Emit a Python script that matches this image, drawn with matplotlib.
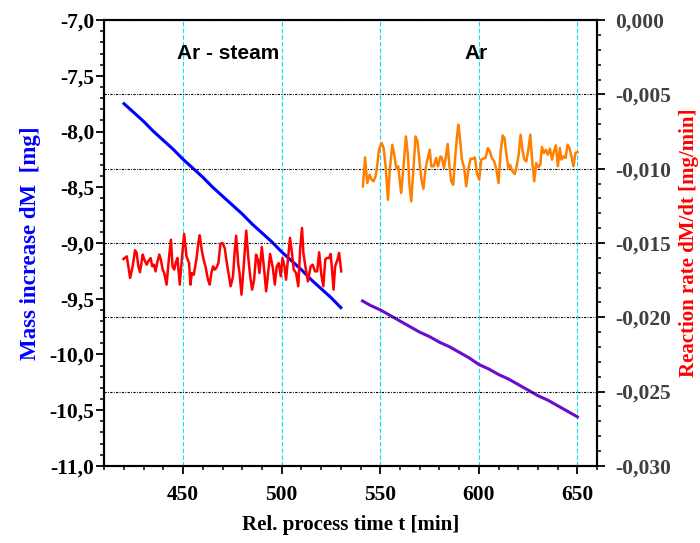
import numpy as np
import matplotlib.pyplot as plt
from matplotlib.ticker import MultipleLocator, FuncFormatter

# mass curve, Ar - steam section
t_ms = [420, 425, 430, 435, 440, 445, 450, 455, 460, 465, 470, 475, 480, 485,
        490, 495, 500, 505, 510, 515, 520, 525, 530]
m_ms = [-7.75, -7.83, -7.91, -8.00, -8.08, -8.16, -8.25, -8.33, -8.41, -8.50,
        -8.58, -8.66, -8.74, -8.83, -8.91, -8.99, -9.08, -9.16, -9.24, -9.33,
        -9.41, -9.49, -9.58]

# mass curve, Ar section
t_ma = [541, 545, 550, 555, 560, 565, 570, 575, 580, 585, 590, 595, 600, 605,
        610, 615, 620, 625, 630, 635, 640, 645, 650]
m_ma = [-9.52, -9.56, -9.60, -9.65, -9.70, -9.75, -9.80, -9.84, -9.89, -9.93,
        -9.98, -10.03, -10.09, -10.13, -10.18, -10.22, -10.27, -10.32, -10.37,
        -10.41, -10.46, -10.51, -10.56]

# reaction rate, Ar - steam
t_rs = [419.7, 421.4, 423.1, 424.4, 425.6, 426.4, 427.3, 428.1, 429.5, 430.3,
        431.5, 432.3, 433.5, 434.3, 435.2, 436.0, 436.9, 437.9, 438.7, 439.6,
        440.4, 441.6, 442.8, 443.8, 444.6, 445.5, 446.3, 447.1, 448.3, 449.3,
        450.5, 451.7, 453.0, 453.7, 454.4, 455.4, 456.7, 457.7, 458.4, 459.4,
        460.4, 461.5, 462.6, 463.5, 464.3, 465.2, 466.0, 466.8, 467.9, 468.9,
        469.9, 471.1, 471.9, 472.7, 474.1, 475.3, 476.1, 476.9, 477.9, 478.6,
        479.6, 480.6, 482.0, 483.0, 484.0, 485.0, 486.0, 487.0, 487.9, 488.7,
        489.9, 491.1, 492.1, 493.1, 494.1, 495.5, 496.5, 497.5, 498.5, 499.5,
        500.4, 501.4, 502.2, 503.0, 504.2, 505.2, 506.1, 507.3, 508.4, 509.4,
        510.3, 511.0, 512.0, 513.3, 514.7, 515.7, 516.9, 518.0, 519.0, 520.1,
        521.1, 522.1, 522.9, 524.1, 524.8, 525.4, 526.3, 527.1, 528.3, 529.1,
        530.2]
r_rs = [-0.01608, -0.01590, -0.01735, -0.01657, -0.01549, -0.01567, -0.01657,
        -0.01697, -0.01578, -0.01612, -0.01646, -0.01623, -0.01601, -0.01657,
        -0.01646, -0.01691, -0.01630, -0.01578, -0.01612, -0.01679, -0.01702,
        -0.01780, -0.01601, -0.01478, -0.01657, -0.01679, -0.01630, -0.01601,
        -0.01780, -0.01612, -0.01439, -0.01590, -0.01635, -0.01780, -0.01702,
        -0.01713, -0.01612, -0.01500, -0.01448, -0.01545, -0.01612, -0.01668,
        -0.01747, -0.01780, -0.01702, -0.01657, -0.01679, -0.01668, -0.01635,
        -0.01504, -0.01500, -0.01534, -0.01612, -0.01679, -0.01791, -0.01724,
        -0.01567, -0.01451, -0.01635, -0.01702, -0.01848, -0.01679, -0.01417,
        -0.01590, -0.01724, -0.01814, -0.01747, -0.01578, -0.01612, -0.01702,
        -0.01527, -0.01679, -0.01825, -0.01702, -0.01574, -0.01668, -0.01780,
        -0.01657, -0.01635, -0.01724, -0.01601, -0.01657, -0.01747, -0.01635,
        -0.01466, -0.01567, -0.01679, -0.01702, -0.01791, -0.01534, -0.01399,
        -0.01567, -0.01657, -0.01758, -0.01657, -0.01646, -0.01691, -0.01691,
        -0.01563, -0.01713, -0.01791, -0.01612, -0.01601, -0.01601, -0.01574,
        -0.01657, -0.01814, -0.01657, -0.01612, -0.01567, -0.01691]

# reaction rate, Ar
t_ra = [541.2, 542.3, 543.4, 544.6, 545.6, 546.6, 547.6, 548.5, 549.3, 550.7,
        551.7, 552.7, 553.9, 554.9, 556.1, 557.1, 558.1, 559.1, 560.6, 561.6,
        563.0, 564.0, 564.8, 565.7, 566.7, 567.9, 568.9, 569.9, 570.9, 571.9,
        572.9, 573.9, 575.1, 575.9, 577.1, 578.3, 579.3, 580.5, 581.3, 582.3,
        583.3, 584.2, 585.0, 586.0, 587.0, 588.1, 589.1, 589.6, 590.6, 591.4,
        592.6, 593.6, 594.8, 595.8, 597.0, 598.0, 599.0, 600.2, 601.2, 602.2,
        603.4, 604.6, 605.6, 606.6, 607.8, 608.9, 610.0, 611.1, 612.1, 613.0,
        614.0, 615.0, 615.8, 617.0, 618.2, 619.2, 620.2, 621.2, 622.1, 623.1,
        624.1, 625.1, 626.1, 627.1, 628.1, 629.1, 630.2, 631.2, 632.0, 633.0,
        634.0, 635.0, 636.1, 637.1, 638.1, 639.1, 640.1, 641.1, 641.9, 643.0,
        644.0, 645.0, 646.0, 647.0, 648.0, 649.0, 650.0]
r_ra = [-0.01119, -0.00924, -0.01096, -0.01040, -0.01074, -0.01085, -0.01052,
        -0.00973, -0.00872, -0.00827, -0.00861, -0.00984, -0.01209, -0.00996,
        -0.00839, -0.00906, -0.00996, -0.00984, -0.01164, -0.01018, -0.00783,
        -0.00906, -0.01108, -0.01220, -0.01029, -0.00783, -0.00816, -0.00951,
        -0.01074, -0.01135, -0.01007, -0.00939, -0.00872, -0.00984, -0.00984,
        -0.00928, -0.00984, -0.00917, -0.00928, -0.00996, -0.00917, -0.00834,
        -0.00973, -0.01085, -0.01108, -0.00906, -0.00760, -0.00704, -0.00816,
        -0.00939, -0.00996, -0.01119, -0.00996, -0.00933, -0.00933, -0.00924,
        -0.01029, -0.01074, -0.00939, -0.00933, -0.00928, -0.00861, -0.00883,
        -0.00928, -0.00951, -0.01007, -0.01096, -0.00883, -0.00776, -0.00794,
        -0.00906, -0.00996, -0.00973, -0.01018, -0.01036, -0.00984, -0.00906,
        -0.00771, -0.00872, -0.00939, -0.00951, -0.00872, -0.00771, -0.00951,
        -0.01085, -0.00962, -0.00991, -0.00973, -0.00854, -0.00895, -0.00872,
        -0.00906, -0.00865, -0.00939, -0.00883, -0.00843, -0.00984, -0.00861,
        -0.00939, -0.00917, -0.00928, -0.00839, -0.00861, -0.00917, -0.00984,
        -0.00895, -0.00889]

serif = 'Liberation Serif'
comma = lambda fmt: FuncFormatter(lambda v, p: (fmt % v).replace('.', ','))

fig = plt.figure(figsize=(7, 5.43), dpi=100)
ax = fig.add_axes([0.149, 0.142, 0.704, 0.821])
ax2 = ax.twinx()

ax.plot(t_ms, m_ms, color='#0000ff', lw=2.2, solid_joinstyle='round')
ax.plot(t_ma, m_ma, color='#6a0dcc', lw=2.2, solid_joinstyle='round')
ax2.plot(t_rs, r_rs, color='#ff0000', lw=1.8, solid_joinstyle='round')
ax2.plot(t_ra, r_ra, color='#ff8000', lw=1.8, solid_joinstyle='round')

ax.set_xlim(410, 660)
ax.set_ylim(-11, -7)
ax2.set_ylim(-0.030, 0.0)

ax.xaxis.set_major_locator(MultipleLocator(50))
ax.xaxis.set_minor_locator(MultipleLocator(10))
ax.yaxis.set_major_locator(MultipleLocator(0.5))
ax.yaxis.set_minor_locator(MultipleLocator(0.1))
ax.yaxis.set_major_formatter(comma('%.1f'))
ax2.yaxis.set_major_locator(MultipleLocator(0.005))
ax2.yaxis.set_minor_locator(MultipleLocator(0.001))
ax2.yaxis.set_major_formatter(comma('%.3f'))

ax.grid(axis='x', color='#00e5ee', ls=(0, (4, 2)), lw=0.8)
ax2.grid(axis='y', color='black', ls=(0, (2, 1.2, 0.8, 1.2)), lw=0.8)

for a in (ax, ax2):
    for sp in a.spines.values():
        sp.set_linewidth(1.5)
ax.tick_params(axis='both', which='major', direction='out', length=6, width=1.3)
ax.tick_params(axis='both', which='minor', direction='out', length=3, width=1.1)
ax.tick_params(axis='x', pad=8)
ax.tick_params(axis='y', pad=1)
ax2.tick_params(which='major', direction='out', length=6, width=1.3, pad=7,
                labelcolor='#404040')
ax2.tick_params(which='minor', direction='out', length=3, width=1.1)

for lab in ax.get_xticklabels() + ax.get_yticklabels() + ax2.get_yticklabels():
    lab.set_fontfamily(serif)
    lab.set_fontweight('bold')
    lab.set_fontsize(15.5)

ax.set_xlabel('Rel. process time t [min]', fontfamily=serif, fontweight='bold',
              fontsize=15, labelpad=7)
ax.set_ylabel('Mass increase dM  [mg]', fontfamily=serif, fontweight='bold',
              fontsize=16.5, color='#0000ff', labelpad=6)
ax2.set_ylabel('Reaction rate dM/dt [mg/min]', fontfamily=serif, fontweight='bold',
               fontsize=15, color='#ff0000', labelpad=6)

ax.text(472.8, -7.30, 'Ar - steam', fontfamily='Liberation Sans', fontweight='bold',
        fontsize=15, ha='center', va='center')
ax.text(598.6, -7.30, 'Ar', fontfamily='Liberation Sans', fontweight='bold',
        fontsize=15, ha='center', va='center')

fig.savefig('out.png', dpi=100)
